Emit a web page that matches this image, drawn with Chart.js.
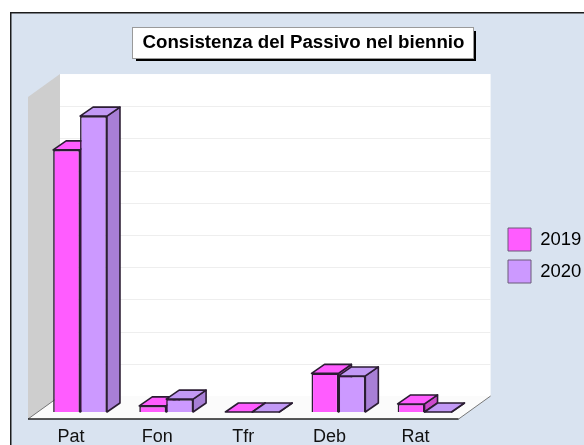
<!DOCTYPE html>
<html>
<head>
<meta charset="utf-8">
<title>Consistenza del Passivo nel biennio</title>
<script src="https://cdn.jsdelivr.net/npm/chart.js@4/dist/chart.umd.min.js"></script>
<style>
    html, body { margin: 0; padding: 0; background: #fff; overflow: hidden; }
    canvas { display: block; }
</style>
</head>
<body>
<canvas id="passivoChart" width="584" height="445"></canvas>
<script>
// Values
const categories = ['Pat', 'Fon', 'Tfr', 'Deb', 'Rat'];
const values2019 = [8.14, 0.19, 0, 1.2, 0.25];
const values2020 = [9.19, 0.4, 0, 1.12, 0];
const titleText = 'Consistenza del Passivo nel biennio';

const FONT = '"Liberation Sans", Arial, sans-serif';
const OUTLINE = '#2b1d33';

// depth of one bar, and offset of the back wall from the bars' plane
const BAR_DX = 13, BAR_DY = -9;
const WALL_DX = 23, WALL_DY = -16;
const FLOOR_DX = -9, FLOOR_DY = 7;

function poly(ctx, pts, fill, stroke, lw) {
    ctx.beginPath();
    pts.forEach((p, i) => i ? ctx.lineTo(p[0], p[1]) : ctx.moveTo(p[0], p[1]));
    ctx.closePath();
    if (fill) {
        ctx.fillStyle = fill;
        ctx.fill();
    }
    if (stroke) {
        ctx.strokeStyle = stroke;
        ctx.lineWidth = lw || 1;
        ctx.stroke();
    }
}

// Background, title box, walls and floor, all behind the bars
const scenePlugin = {
    id: 'scene',
    afterLayout(chart) {
        const t = chart.titleBlock;
        t.left += 10;
        const l = chart.legend;
        l.left = 499;
        l.right = 584;
        l.top = 219;
        l.bottom = 300;
    },
    beforeDraw(chart) {
        const ctx = chart.ctx;
        const a = chart.chartArea;
        const yScale = chart.scales.y;
        ctx.save();

        // panel
        ctx.fillStyle = '#d9e3f0';
        ctx.fillRect(10, 12, 574, 433);
        ctx.fillStyle = '#1c1c1c';
        ctx.fillRect(10, 12, 574, 1.5);
        ctx.fillRect(10, 12, 1.5, 433);

        // title box with shadow
        ctx.fillStyle = '#000';
        ctx.fillRect(136, 31, 340, 30);
        ctx.fillStyle = '#fff';
        ctx.fillRect(133, 28, 340, 30);
        ctx.strokeStyle = '#9a9a9a';
        ctx.lineWidth = 1;
        ctx.strokeRect(132.5, 27.5, 341, 31);

        const fl = a.left + FLOOR_DX, fr = a.right + FLOOR_DX, fb = a.bottom + FLOOR_DY;
        const wl = a.left + WALL_DX, wr = a.right + WALL_DX;
        const wb = a.bottom + WALL_DY, wt = a.top + WALL_DY;

        // back wall and its grid
        ctx.fillStyle = '#fff';
        ctx.fillRect(wl, wt, wr - wl, wb - wt);
        ctx.strokeStyle = '#eeeeee';
        ctx.lineWidth = 1;
        yScale.ticks.forEach(tick => {
            const y = Math.round(yScale.getPixelForValue(tick.value) + WALL_DY) + 0.5;
            if (tick.value > 0 && tick.value < yScale.max) {
                ctx.beginPath();
                ctx.moveTo(wl, y);
                ctx.lineTo(wr, y);
                ctx.stroke();
            }
        });

        // floor
        poly(ctx, [[fl, fb], [fr, fb], [wr, wb], [wl, wb]], '#fbfbfb');

        // left wall
        poly(ctx, [[fl, wt - WALL_DY + FLOOR_DY], [wl, wt], [wl, wb], [fl, fb]], '#cecece');

        // floor edges
        ctx.strokeStyle = '#777777';
        ctx.lineWidth = 1;
        ctx.beginPath();
        ctx.moveTo(fr, fb);
        ctx.lineTo(wr, wb);
        ctx.moveTo(fl, fb);
        ctx.lineTo(wl, wb);
        ctx.stroke();
        ctx.strokeStyle = '#222222';
        ctx.lineWidth = 1.5;
        ctx.beginPath();
        ctx.moveTo(fl, fb);
        ctx.lineTo(fr, fb);
        ctx.stroke();
        ctx.restore();
    },
    // Top and side faces go in first, the library then paints the front faces over them
    beforeDatasetsDraw(chart) {
        const ctx = chart.ctx;
        ctx.save();
        ctx.lineJoin = 'round';
        categories.forEach((c, j) => {
            chart.data.datasets.forEach((ds, i) => {
                const bar = chart.getDatasetMeta(i).data[j];
                const left = bar.x - bar.width / 2, right = bar.x + bar.width / 2;
                poly(ctx, [[right, bar.y], [right + BAR_DX, bar.y + BAR_DY], [right + BAR_DX, bar.base + BAR_DY], [right, bar.base]], ds.sideColor, OUTLINE, 1.6);
                poly(ctx, [[left, bar.y], [left + BAR_DX, bar.y + BAR_DY], [right + BAR_DX, bar.y + BAR_DY], [right, bar.y]], ds.topColor, OUTLINE, 1.6);
            });
        });
        ctx.restore();
    }
};

new Chart(document.getElementById('passivoChart'), {
    type: 'bar',
    data: {
        labels: categories,
        datasets: [{
            label: '2019',
            data: values2019,
            backgroundColor: '#ff5cff',
            topColor: '#ff5cff',
            sideColor: '#cc4acc',
            borderColor: OUTLINE,
            borderWidth: 1.6
        }, {
            label: '2020',
            data: values2020,
            backgroundColor: '#cc99ff',
            topColor: '#c299f5',
            sideColor: '#a87fd6',
            borderColor: OUTLINE,
            borderWidth: 1.6
        }]
    },
    plugins: [scenePlugin],
    options: {
        responsive: false,
        animation: false,
        categoryPercentage: 0.625,
        barPercentage: 1,
        layout: { padding: { left: 37, right: 24, top: 0, bottom: 0 } },
        plugins: {
            title: {
                display: true,
                text: titleText,
                color: '#000',
                font: { family: FONT, size: 18.7, weight: 'bold' },
                padding: { top: 32, bottom: 35.6 }
            },
            legend: {
                display: true,
                position: 'right',
                align: 'start',
                labels: {
                    boxWidth: 23,
                    boxHeight: 23,
                    padding: 9,
                    color: '#111',
                    font: { family: FONT, size: 18.5 },
                    generateLabels(chart) {
                        return chart.data.datasets.map((ds, i) => ({
                            text: ds.label,
                            fillStyle: ds.backgroundColor,
                            strokeStyle: '#6b5a78',
                            lineWidth: 1,
                            datasetIndex: i
                        }));
                    }
                }
            },
            tooltip: { enabled: false }
        },
        scales: {
            x: {
                offset: true,
                afterFit(scale) { scale.height = 33; },
                grid: { display: false },
                border: { display: false },
                ticks: {
                    color: '#111',
                    font: { family: FONT, size: 18 },
                    labelOffset: -9,
                    padding: 6,
                    maxRotation: 0
                }
            },
            y: {
                display: false,
                min: 0,
                max: 10,
                ticks: { stepSize: 1 }
            }
        }
    }
});
</script>
</body>
</html>
